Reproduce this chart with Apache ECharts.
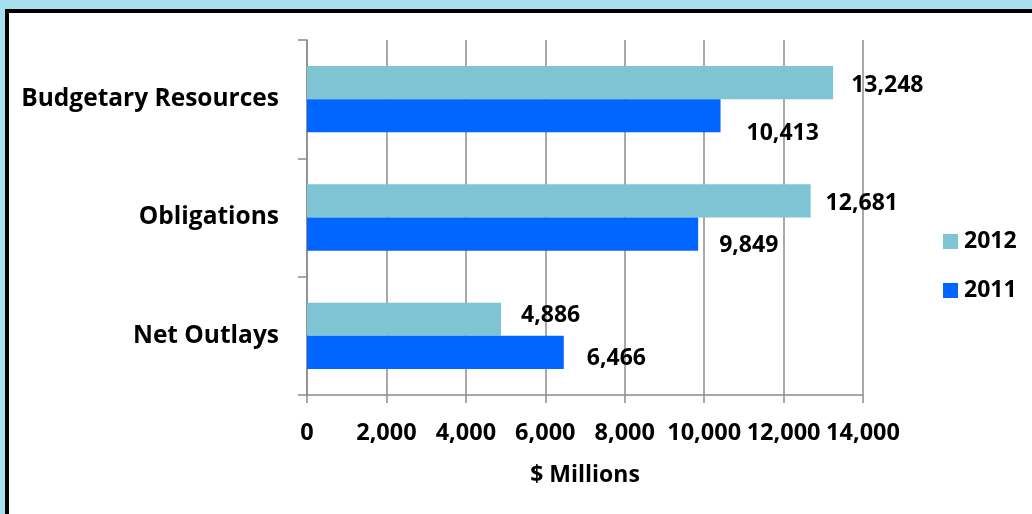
<!DOCTYPE html>
<html>
<head>
<meta charset="utf-8">
<title>Budgetary Resources, Obligations and Net Outlays</title>
<script src="https://cdn.jsdelivr.net/npm/echarts@6/dist/echarts.min.js"></script>
<style>
  html, body { margin: 0; padding: 0; background: #a6e0ee; }
  #chart { width: 1032px; height: 514px; }
</style>
</head>
<body>
<div id="chart"></div>
<script>
// Categories, top to bottom
const categories = ['Budgetary Resources', 'Obligations', 'Net Outlays'];

// $ Millions by fiscal year
const values2012 = [13248, 12681, 4886];
const values2011 = [10413, 9849, 6466];

// Value axis ticks
const axisMin = 0;
const axisMax = 14000;
const axisStep = 2000;

// Per-label nudges [dx, dy] so the value labels sit the way they were laid out
const labelNudge2012 = [[18, 3], [15, 3], [20, -4]];
const labelNudge2011 = [[26, 18], [21, 11], [23, 6]];

const FONT = '"Open Sans", sans-serif';
const GRID_GRAY = '#8c8c8c';

function withLabels(values, nudges) {
  return values.map((v, i) => ({
    value: v,
    label: { offset: nudges[i] }
  }));
}

const chart = echarts.init(document.getElementById('chart'), null, { renderer: 'canvas' });

const textBase = { fontFamily: FONT, fontWeight: 700, color: '#000' };

chart.setOption({
  animation: false,
  backgroundColor: 'transparent',
  graphic: [
    {
      type: 'rect',
      z: -10,
      silent: true,
      shape: { x: 7, y: 11, width: 2000, height: 2000 },
      style: { fill: '#ffffff', stroke: '#000000', lineWidth: 4 }
    }
  ],
  grid: { left: 307, top: 40, width: 556, height: 355, containLabel: false },
  legend: {
    orient: 'vertical',
    left: 943,
    top: 230,
    padding: 0,
    itemWidth: 15,
    itemHeight: 15,
    itemGap: 26,
    icon: 'rect',
    textStyle: Object.assign({ fontSize: 23, padding: [3, 0, 0, 1] }, textBase),
    data: ['2012', '2011']
  },
  xAxis: {
    type: 'value',
    min: axisMin,
    max: axisMax,
    interval: axisStep,
    name: '$ Millions',
    nameLocation: 'middle',
    nameGap: 69,
    nameTextStyle: Object.assign({ fontSize: 23 }, textBase),
    axisLine: { show: true, lineStyle: { color: GRID_GRAY, width: 1.5 } },
    axisTick: { show: true, length: 8, lineStyle: { color: GRID_GRAY, width: 1.5 } },
    axisLabel: Object.assign({
      fontSize: 23.5, margin: 26,
      formatter: v => v.toLocaleString('en-US')
    }, textBase),
    splitLine: { show: true, lineStyle: { color: GRID_GRAY, width: 1.5 } }
  },
  yAxis: {
    type: 'category',
    inverse: true,
    data: categories,
    axisLine: { show: true, lineStyle: { color: GRID_GRAY, width: 1.5 } },
    axisTick: { show: true, length: 9, lineStyle: { color: GRID_GRAY, width: 1.5 } },
    axisLabel: Object.assign({ fontSize: 24.5, margin: 28, padding: [4, 0, 0, 0] }, textBase)
  },
  series: [
    {
      name: '2012',
      type: 'bar',
      data: withLabels(values2012, labelNudge2012),
      itemStyle: { color: '#7ec4d3' },
      barGap: '0%',
      barCategoryGap: '44%',
      label: Object.assign({
        show: true, position: 'right', distance: 0, fontSize: 23,
        formatter: p => p.value.toLocaleString('en-US')
      }, textBase)
    },
    {
      name: '2011',
      type: 'bar',
      data: withLabels(values2011, labelNudge2011),
      itemStyle: { color: '#0066ff' },
      barGap: '0%',
      barCategoryGap: '44%',
      label: Object.assign({
        show: true, position: 'right', distance: 0, fontSize: 23,
        formatter: p => p.value.toLocaleString('en-US')
      }, textBase)
    }
  ]
});
</script>
</body>
</html>
